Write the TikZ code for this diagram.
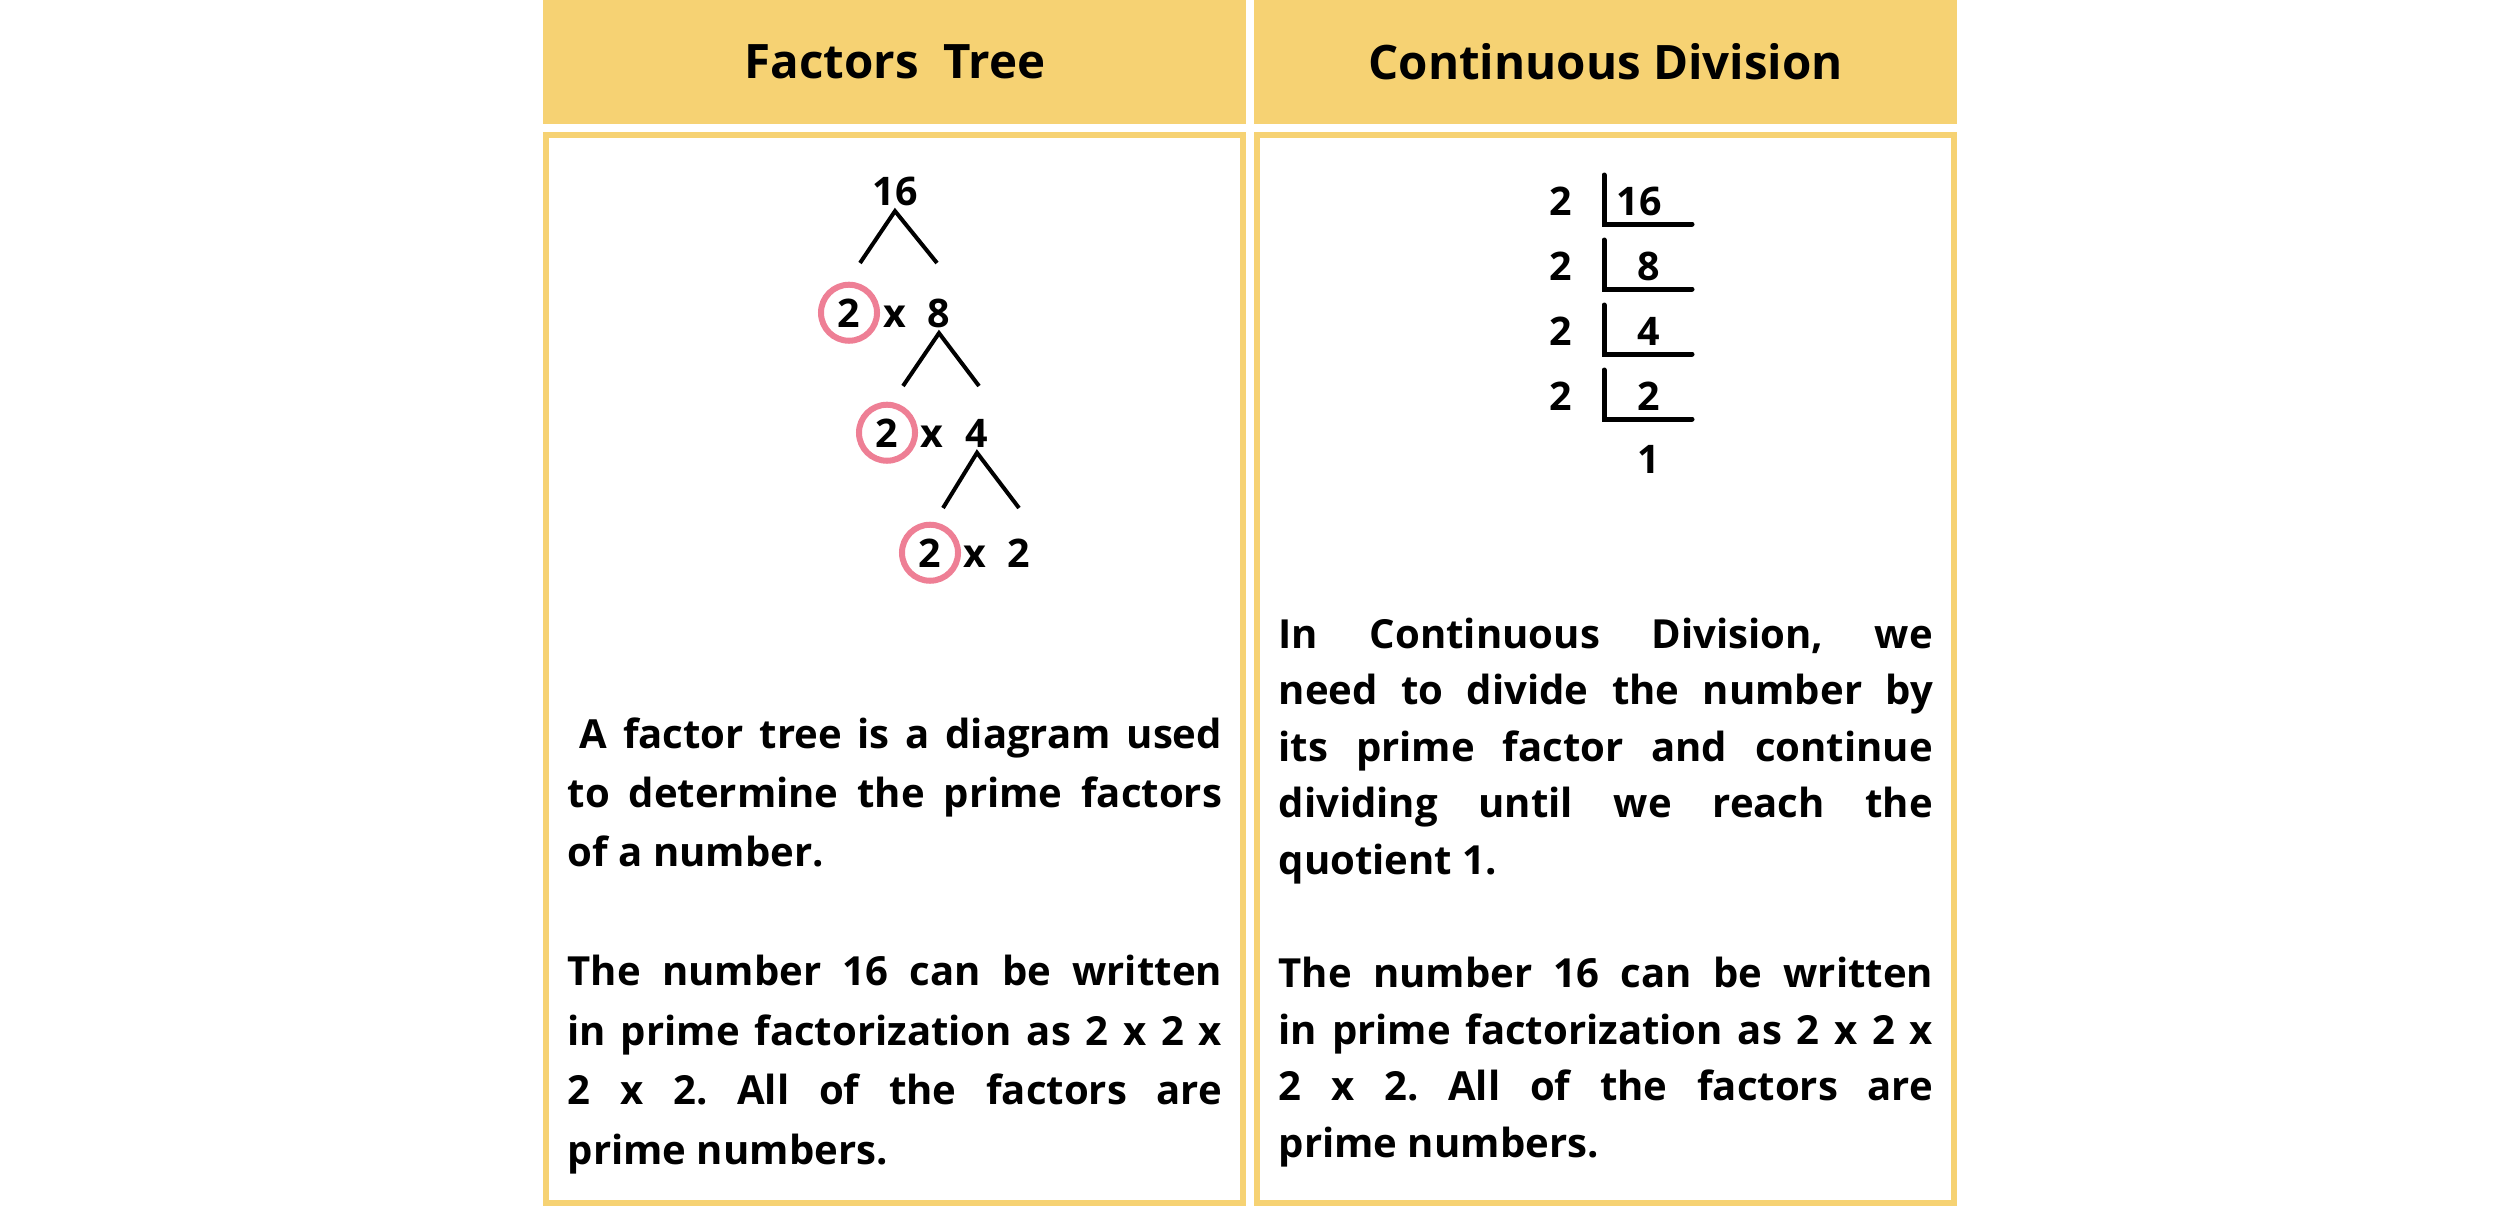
\documentclass[tikz,border=0pt]{standalone}
\usepackage{fontspec}
\setmainfont{Open Sans}
\usepackage{tikz}
\definecolor{headyellow}{HTML}{F6D273}
\definecolor{ringpink}{HTML}{EE7F95}
\frenchspacing

\begin{document}
\begin{tikzpicture}[x=0.01cm, y=-0.01cm,
    header/.style={fill=headyellow, anchor=north west, minimum width=7.03cm, minimum height=1.24cm, inner sep=0pt, outer sep=0pt, font=\fontsize{13.5}{16}\selectfont\bfseries},
    panel/.style={draw=headyellow, line width=0.06cm},
    num/.style={font=\fontsize{11.2}{13}\selectfont\bfseries, inner sep=0.05cm, anchor=base},
    ring/.style={num, circle, draw=ringpink, line width=0.06cm, minimum size=0.56cm, inner sep=0pt},
    branch/.style={line width=0.04cm},
    bar/.style={line width=0.05cm, line cap=round},
    para/.style={font=\fontsize{11.4}{#1}\selectfont\bfseries, text width=6.54cm, align=justify, anchor=base west, inner sep=0pt}]
    \useasboundingbox (0,0) rectangle (2500,1206);

    \node[header] (head1) at (543,0) {Factors\ \ Tree};
    \node[header] (head2) at (1254,0) {Continuous Division};
    \draw[panel] (546,135) rectangle (1243,1203);
    \draw[panel] (1257,135) rectangle (1954,1203);

    \node[num] (t0) at (895,205) {16};
    \node[ring] (a1) at (849,327) {2};
    \node[num] (x1) at (895,327) {x};
    \node[num] (b1) at (939,327) {8};
    \node[ring] (a2) at (887,447) {2};
    \node[num] (x2) at (932,447) {x};
    \node[num] (b2) at (977,447) {4};
    \node[ring] (a3) at (930,567) {2};
    \node[num] (x3) at (975,567) {x};
    \node[num] (b3) at (1019,567) {2};

    \coordinate (l1) at (860,263);
    \coordinate (r1) at (937,263);
    \coordinate (l2) at (903,386);
    \coordinate (r2) at (979,386);
    \coordinate (l3) at (943,508);
    \coordinate (r3) at (1019,508);
    \draw[branch] (l1) -- (t0.south) -- (r1);
    \draw[branch] (l2) -- (b1.south) -- (r2);
    \draw[branch] (l3) -- (b2.south) -- (r3);

    \node[num] (d1) at (1561,215) {2};
    \node[num] (d2) at (1561,280) {2};
    \node[num] (d3) at (1561,345) {2};
    \node[num] (d4) at (1561,410) {2};
    \node[num] (q0) at (1639,215) {16};
    \node[num] (q1) at (1649,280) {8};
    \node[num] (q2) at (1649,345) {4};
    \node[num] (q3) at (1649,410) {2};
    \node[num] (q4) at (1649,473) {1};
    \draw[bar] (1604,175) -- (1604,224) -- (1692,224);
    \draw[bar] (1604,240) -- (1604,289) -- (1692,289);
    \draw[bar] (1604,305) -- (1604,354) -- (1692,354);
    \draw[bar] (1604,370) -- (1604,419) -- (1692,419);

    \node[para=16.9pt] (txt1) at (567,748) {\hspace*{0.3em}A factor tree is a diagram used\linebreak to determine the prime factors\linebreak of a number.\\[16.9pt]The number 16 can be written\linebreak in prime factorization as 2 x 2 x\linebreak 2 x 2. All of the factors are\linebreak prime numbers.};
    \node[para=16.1pt] (txt2) at (1278,648) {In Continuous Division, we\linebreak need to divide the number by\linebreak its prime factor and continue\linebreak dividing until we reach the\linebreak quotient 1.\\[16.1pt]The number 16 can be written\linebreak in prime factorization as 2 x 2 x\linebreak 2 x 2. All of the factors are\linebreak prime numbers.};
\end{tikzpicture}
\end{document}
